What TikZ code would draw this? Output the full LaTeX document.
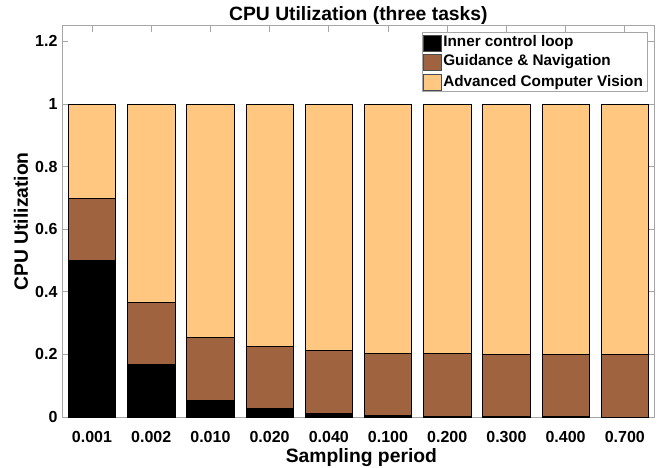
\documentclass[tikz,border=0pt]{standalone}
\usepackage{fontspec}
\setmainfont{Liberation Sans}
\usetikzlibrary{positioning}
\definecolor{loopcol}{rgb}{0,0,0}
\definecolor{guidcol}{rgb}{0.625,0.3906,0.2488}
\definecolor{visioncol}{rgb}{1,0.7812,0.4975}
\tikzstyle{seg}=[draw=black,line width=0.5pt]
\tikzstyle{axis}=[draw=gray!70,line width=0.8pt]
\tikzstyle{ticklab}=[font=\fontsize{16}{18}\selectfont\bfseries,inner sep=0pt]
\tikzstyle{axlab}=[font=\fontsize{19.3}{22}\selectfont\bfseries,inner sep=0pt]
\tikzstyle{leglab}=[font=\fontsize{15.3}{17}\selectfont\bfseries,inner sep=0pt]
\tikzstyle{swatch}=[draw=black!70,line width=0.4pt,minimum width=18pt,minimum height=16pt,inner sep=0pt]

\begin{document}
\begin{tikzpicture}[x=59.2pt,y=313pt]
\useasboundingbox (-0.554,-0.1597) rectangle (10.662,1.3323);
\draw[axis] (0.5,0) rectangle (10.5,1.25);
\foreach \v in {0,0.2,0.4,0.6,0.8,1,1.2} {
  \draw[axis] (0.5,\v) -- ++(6pt,0);
  \draw[axis] (10.5,\v) -- ++(-6pt,0);
  \node[ticklab,anchor=east] (yt\v) at (0.42,\v) {\v};
}
\foreach \k/\c/\lab in {1/0.5/0.001,2/0.167/0.002,3/0.055/0.010,4/0.027/0.020,5/0.013/0.040,6/0.005/0.100,7/0.0025/0.200,8/0.0017/0.300,9/0.00125/0.400,10/0.0007/0.700} {
  \draw[axis] (\k,1.25) -- ++(0,-6pt);
  \draw[seg,fill=visioncol] (\k-0.4,0) rectangle (\k+0.4,1);
  \draw[seg,fill=guidcol] (\k-0.4,0) rectangle (\k+0.4,\c+0.2);
  \draw[seg,fill=loopcol] (\k-0.4,0) rectangle (\k+0.4,\c);
  \node[ticklab,anchor=base] (xt\k) at (\k,-0.08) {\lab};
}
\node[axlab,anchor=base] (title) at (5.5,1.268) {CPU Utilization (three tasks)};
\node[axlab,anchor=base] (xlab) at (5.55,-0.144) {Sampling period};
\node[axlab,rotate=90] (ylab) at (-0.2,0.625) {CPU Utilization};
\node[draw=gray!70,fill=white,line width=0.6pt,minimum width=225pt,minimum height=59pt,inner sep=0pt,anchor=north west] (legbox) at (6.574,1.230) {};
\node[swatch,fill=loopcol] (sw1) at (6.742,1.195) {};
\node[swatch,fill=guidcol] (sw2) at (6.742,1.134) {};
\node[swatch,fill=visioncol] (sw3) at (6.742,1.070) {};
\node[leglab,right=2pt of sw1] (lg1) {Inner control loop};
\node[leglab,right=2pt of sw2] (lg2) {Guidance \& Navigation};
\node[leglab,right=2pt of sw3] (lg3) {Advanced Computer Vision};
\end{tikzpicture}
\end{document}
